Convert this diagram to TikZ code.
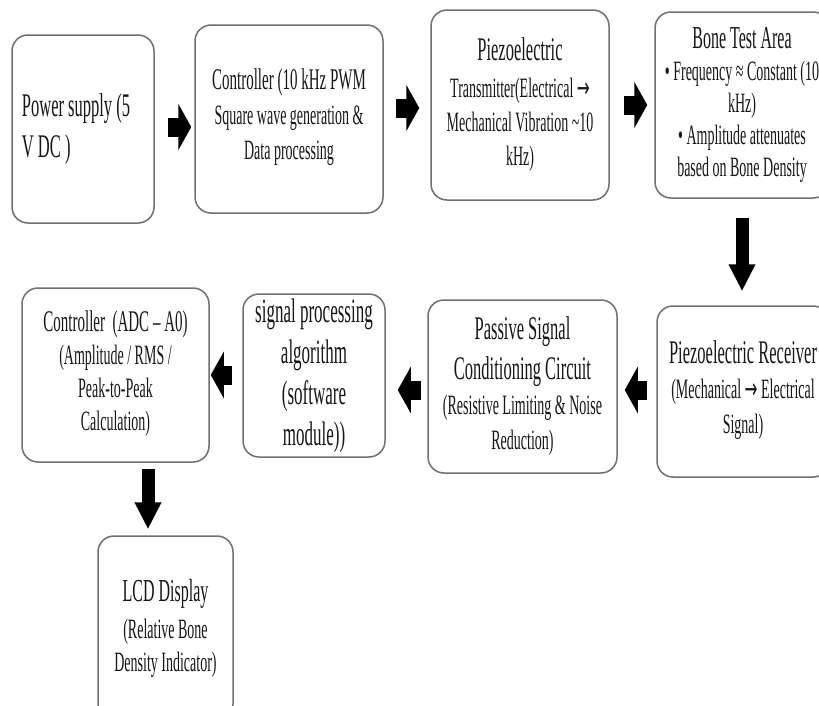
\documentclass[tikz,border=0pt]{standalone}
\usepackage{fontspec}
\setmainfont{Liberation Serif}[FakeStretch=0.5]
\newfontfamily\arrowfont{DejaVu Sans}[FakeStretch=0.55]
\usetikzlibrary{arrows.meta}
\definecolor{boxgray}{HTML}{707070}
\definecolor{txt}{HTML}{161616}
\newcommand{\fsz}[2]{\fontsize{#1}{#2}\selectfont}
\newcommand{\rarr}{{\arrowfont\raisebox{0.5pt}{→}}}
\begin{document}
\begin{tikzpicture}[x=1pt,y=-1pt,
  box/.style={draw=boxgray, line width=1.5pt, rounded corners=16pt, fill=white,
    inner sep=0pt, align=center, text=txt},
  barrow/.style={draw=black, line width=19pt, -{Triangle[width=46pt,length=13pt]}},
  darrow/.style={draw=black, line width=13pt, -{Triangle[width=25pt,length=27pt]}}]
\useasboundingbox (0,0) rectangle (819,705);
\clip (0,0) rectangle (819,705);
\fill[white] (0,0) rectangle (819,705);

% row 1
\node[box, minimum width=142pt, minimum height=188pt, align=left,
  font=\fsz{33}{41}] (b1) at (83,129) {Power supply (5\hspace*{14pt}\\V DC )};
\node[box, minimum width=188pt, minimum height=188pt, font=\fsz{28}{35}] (b2) at (289,119)
  {{\fsz{30}{35}Controller (10 kHz PWM}\\Square wave generation \&\\Data processing\rule[-9pt]{0pt}{1pt}};
\node[box, minimum width=178pt, minimum height=190pt, font=\fsz{28}{34}] (b3) at (520,105)
  {{\fsz{33}{34}Piezoelectric}\\[3pt]Transmitter(Electrical \rarr\\Mechanical Vibration \textasciitilde10\\kHz)};
\node[box, minimum width=174pt, minimum height=186pt, font=\fsz{28}{32}] (b4) at (742,105)
  {{\fsz{32}{32}Bone Test Area}\\• Frequency ≈ Constant (10\\kHz)\\• Amplitude attenuates\\based on Bone Density};

% row 2
\node[box, minimum width=172pt, minimum height=171pt, font=\fsz{28}{35}] (b5) at (743,391.5)
  {{\fsz{33}{35}Piezoelectric Receiver}\\(Mechanical \rarr{} Electrical\\Signal)\rule[-8pt]{0pt}{1pt}};
\node[box, minimum width=189pt, minimum height=173pt, font=\fsz{28}{35}] (b6) at (522.5,386.5)
  {{\fsz{33}{35}Passive Signal}\\[5pt]{\fsz{33}{35}Conditioning Circuit}\\(Resistive Limiting \& Noise\\Reduction)};
\node[box, minimum width=142pt, minimum height=163pt, font=\fsz{34}{41}] (b7) at (314,375.5)
  {signal processing\\algorithm\\(software\\module))};
\node[box, minimum width=187pt, minimum height=174pt, font=\fsz{28}{33}] (b8) at (115.5,375)
  {{\fsz{30}{33}Controller\ \ (ADC – A0)}\\(Amplitude / RMS /\\Peak-to-Peak\\Calculation)\rule[-8pt]{0pt}{1pt}};

% row 3
\node[box, minimum width=135pt, minimum height=184pt, font=\fsz{28}{33}] (b9) at (165.5,628)
  {{\fsz{32}{33}LCD Display}\\[4pt](Relative Bone\\Density Indicator)};

% arrows
\draw[barrow, shorten <=13pt, shorten >=3pt] (b1.east |- 0,127) -- (b2.west |- 0,127);
\draw[barrow, shorten <=12pt, shorten >=11pt] (b2.east |- 0,108) -- (b3.west |- 0,108);
\draw[barrow, shorten <=14pt, shorten >=7pt] (b3.east |- 0,105) -- (b4.west |- 0,105);
\draw[darrow, shorten <=19pt, shorten >=14pt] (b4.south) -- (b4.south |- b5.north);
\draw[barrow, shorten <=9pt, shorten >=7pt] (b5.west |- 0,390) -- (b6.east |- 0,390);
\draw[barrow, shorten <=6pt, shorten >=12pt] (b6.west |- 0,390) -- (b7.east |- 0,390);
\draw[barrow, shorten <=10pt, shorten >=1pt] (b7.west |- 0,375) -- (b8.east |- 0,375);
\draw[darrow, shorten <=6pt, shorten >=6pt] (148,0 |- b8.south) -- (148,0 |- b9.north);
\end{tikzpicture}
\end{document}
